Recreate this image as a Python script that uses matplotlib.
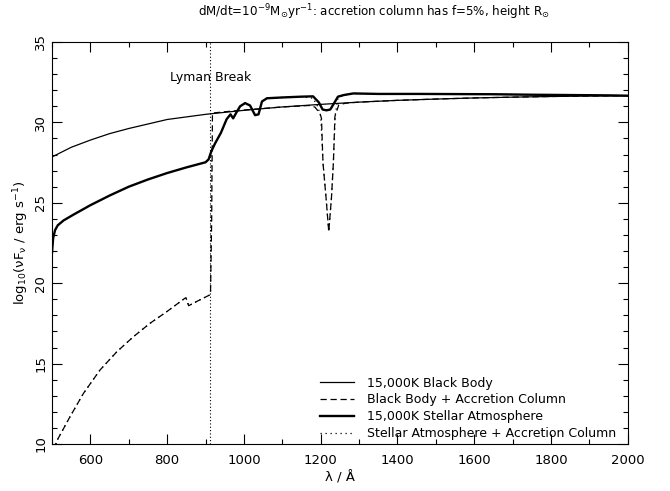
import matplotlib
matplotlib.use('Agg')
import matplotlib.pyplot as plt
from matplotlib.ticker import MultipleLocator

# 15,000K black body
wl_bb = [500, 550, 600, 650, 700, 800, 900, 1000, 1100, 1200, 1300, 1400,
         1500, 1600, 1700, 1800, 1900, 2000]
bb = [27.85, 28.45, 28.9, 29.3, 29.62, 30.18, 30.5, 30.75, 30.96, 31.12, 31.26,
      31.37, 31.45, 31.52, 31.57, 31.61, 31.64, 31.66]

# black body + accretion column
wl_bbac = [505, 515, 547, 582, 625, 669, 712, 755, 799, 846, 849, 856, 880, 911,
           913, 916, 918, 950, 1000, 1100, 1170, 1185, 1198, 1202, 1206, 1214,
           1221, 1228, 1233, 1237, 1247, 1264, 1300, 1400, 1500, 1600, 1700,
           1800, 1900, 2000]
bbac = [9.7, 10.3, 11.7, 13.15, 14.6, 15.74, 16.67, 17.5, 18.23, 19.06, 19.1,
        18.6, 18.9, 19.27, 19.4, 24.0, 30.58, 30.66, 30.77, 30.96, 31.05, 30.95,
        30.56, 30.25, 27.46, 25.3, 23.2, 25.3, 27.46, 30.37, 31.08, 31.19, 31.26,
        31.37, 31.45, 31.52, 31.57, 31.61, 31.64, 31.66]

# 15,000K stellar atmosphere
wl_sa = [500, 503, 508, 515, 530, 555, 600, 650, 700, 750, 800, 850, 900, 908,
         915, 925, 940, 955, 965, 972, 980, 990, 1003, 1016, 1029, 1038, 1047,
         1060, 1100, 1150, 1180, 1195, 1205, 1215, 1225, 1235, 1245, 1260, 1285,
         1350, 1450, 1550, 1650, 1750, 1850, 1950, 2000]
sa = [21.9, 22.8, 23.3, 23.6, 23.9, 24.25, 24.85, 25.45, 26.0, 26.45, 26.85,
      27.2, 27.52, 27.7, 28.2, 28.7, 29.35, 30.2, 30.5, 30.25, 30.6, 31.0, 31.2,
      31.05, 30.45, 30.5, 31.3, 31.5, 31.55, 31.6, 31.62, 31.25, 30.8, 30.75,
      30.8, 31.2, 31.6, 31.7, 31.8, 31.77, 31.77, 31.76, 31.75, 31.72, 31.7,
      31.68, 31.66]

# stellar atmosphere + accretion column
wl_saac = [505, 515, 547, 582, 625, 669, 712, 755, 799, 846, 849, 856, 880, 911,
           913, 915, 925, 940, 955, 965, 972, 980, 990, 1003, 1016, 1029, 1038,
           1047, 1060, 1100, 1150, 1180, 1192, 1200, 1206, 1214, 1221, 1228,
           1233, 1238, 1245, 1260, 1285, 1350, 1450, 1550, 1650, 1750, 1850,
           1950, 2000]
saac = [9.7, 10.3, 11.7, 13.15, 14.6, 15.74, 16.67, 17.5, 18.23, 19.06, 19.1,
        18.6, 18.9, 19.27, 19.4, 28.2, 28.7, 29.35, 30.2, 30.5, 30.25, 30.6,
        31.0, 31.2, 31.05, 30.45, 30.5, 31.3, 31.5, 31.55, 31.6, 31.5, 31.0,
        30.4, 27.5, 25.3, 23.2, 25.3, 27.5, 30.5, 31.5, 31.7, 31.8, 31.77,
        31.77, 31.76, 31.75, 31.72, 31.7, 31.68, 31.66]

lyman_break = 912

plt.rcParams['font.family'] = 'DejaVu Sans'
plt.rcParams['mathtext.fontset'] = 'dejavusans'

fig = plt.figure(figsize=(6.7, 4.91), dpi=100)
ax = fig.add_axes([0.0776, 0.0957, 0.8594, 0.8188])

ax.plot(wl_bb, bb, color='black', lw=0.9, label='15,000K Black Body')
ax.plot(wl_bbac, bbac, color='black', lw=0.9, ls=(0, (5, 3)),
        label='Black Body + Accretion Column')
ax.plot(wl_sa, sa, color='black', lw=1.7, label='15,000K Stellar Atmosphere')
ax.plot(wl_saac, saac, color='black', lw=0.9, ls=(0, (1, 3)),
        label='Stellar Atmosphere + Accretion Column')

ax.axvline(lyman_break, color='black', lw=0.8, ls=(0, (1, 2)))
ax.text(lyman_break, 32.8, 'Lyman Break', ha='center', va='center', fontsize=9)

ax.set_xlim(500, 2000)
ax.set_ylim(10, 35)
ax.xaxis.set_major_locator(MultipleLocator(200))
ax.xaxis.set_minor_locator(MultipleLocator(100))
ax.yaxis.set_major_locator(MultipleLocator(5))
ax.yaxis.set_minor_locator(MultipleLocator(1))
ax.tick_params(which='both', direction='in', top=True, right=True,
               labelsize=9.5, width=0.8)
ax.tick_params(which='major', length=7)
ax.tick_params(which='minor', length=3.5)
ax.tick_params(axis='x', pad=7)
for lab in ax.get_yticklabels():
    lab.set_rotation(90)
    lab.set_va('center')

ax.set_xlabel('λ / Å', fontsize=9.5, labelpad=3)
ax.set_ylabel(r'log$_{10}$(νF$_{\mathrm{ν}}$ / erg s$^{-1}$)', fontsize=9.5,
              labelpad=2)
fig.text(0.558, 0.975,
         r'dM/dt=10$^{-9}$M$_{\odot}$yr$^{-1}$: accretion column has f=5%, height R$_{\odot}$',
         fontsize=8.6, ha='center', va='center')

ax.legend(loc='lower right', bbox_to_anchor=(1.0, -0.018), frameon=False,
          fontsize=9, handlelength=2.7, labelspacing=0.3, handletextpad=1.1)

fig.savefig('out.png', dpi=100)
